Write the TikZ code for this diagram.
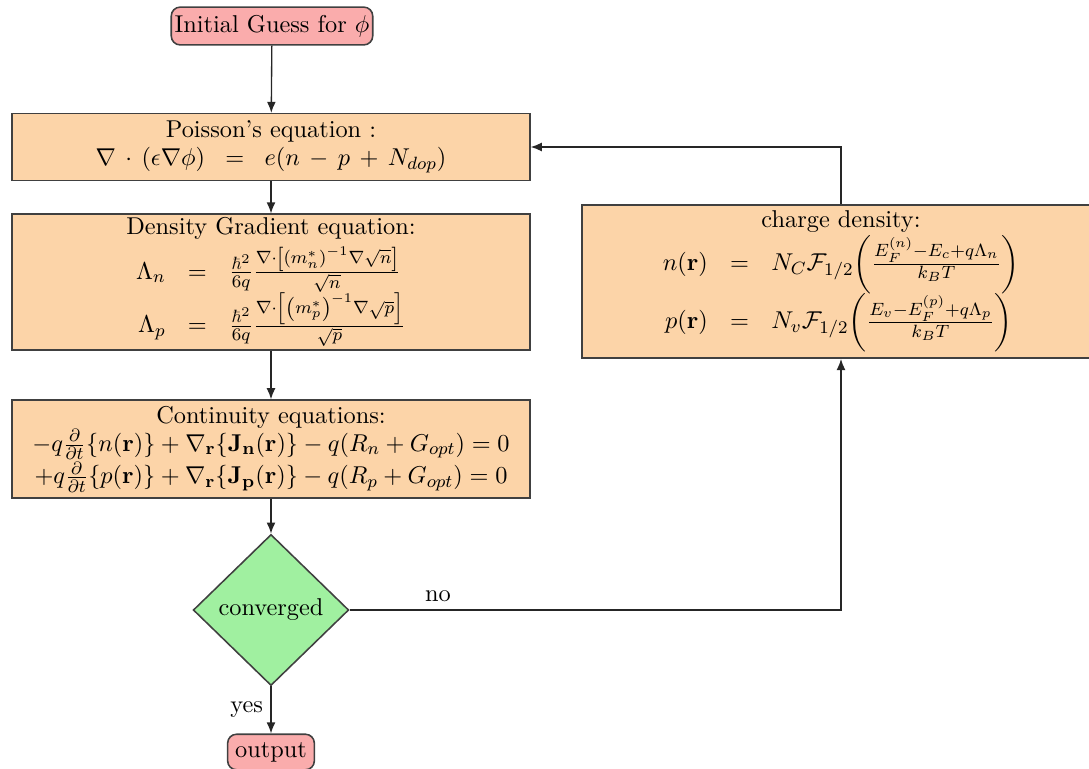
\documentclass[tikz,border=0pt]{standalone}
\usepackage{amsmath,amssymb}
\usetikzlibrary{shapes.geometric,arrows.meta}
\definecolor{boxor}{RGB}{252,212,168}
\definecolor{boxred}{RGB}{250,172,172}
\definecolor{boxgreen}{RGB}{160,240,160}
\tikzset{
  eqbox/.style={draw=black!75, line width=0.7pt, fill=boxor, minimum width=233pt, align=center, inner sep=2pt},
  termbox/.style={draw=black!75, line width=0.7pt, fill=boxred, rounded corners=4pt, align=center, inner sep=1.5pt},
  decbox/.style={diamond, draw=black!75, line width=0.7pt, fill=boxgreen, minimum width=70pt, minimum height=68pt, inner sep=0pt, aspect=1},
  arr/.style={-{Latex[length=5pt,width=4pt]}, line width=0.6pt, draw=black!85}
}
\begin{document}
\begin{tikzpicture}[x=0.45pt,y=-0.45pt,every node/.style={font=\fontsize{10.95}{13.6}\selectfont}]
\useasboundingbox (0,0) rectangle (1089,768);
\node[termbox, minimum width=86pt, minimum height=17pt] (init) at (272,26) {Initial Guess for $\phi$};
\node[eqbox, minimum height=30pt] (poisson) at (271,147) {Poisson's equation :\\[-1pt] $\nabla\,\cdot\,(\epsilon\nabla\phi)\;\;=\;\;e(n\,-\,p\,+\,N_{dop})$};
\node[eqbox, minimum height=61pt, inner ysep=0pt] (dens) at (271,282) {Density Gradient equation:\\[2.5pt]
$\begin{array}{rcl}
\Lambda_n & = & \frac{\hbar^2}{6q}\frac{\nabla\cdot\left[\left(m_n^*\right)^{-1}\nabla\sqrt{n}\right]}{\sqrt{n}}\\[0.5pt]
\Lambda_p & = & \frac{\hbar^2}{6q}\frac{\nabla\cdot\left[\left(m_p^*\right)^{-1}\nabla\sqrt{p}\right]}{\sqrt{p}}
\end{array}$};
\node[eqbox, minimum height=44pt] (cont) at (271,449) {Continuity equations:\\[-1pt]
$-q\frac{\partial}{\partial t}\{n(\mathbf{r})\} + \nabla_{\mathbf{r}}\{\mathbf{J_n}(\mathbf{r})\} - q(R_n + G_{opt}) = 0$\\[0pt]
$+q\frac{\partial}{\partial t}\{p(\mathbf{r})\} + \nabla_{\mathbf{r}}\{\mathbf{J_p}(\mathbf{r})\} - q(R_p + G_{opt}) = 0$};
\node[decbox] (conv) at (271,610) {converged};
\node[termbox, minimum width=39pt, minimum height=16pt] (out) at (271,752) {output};
\node[eqbox, minimum height=69pt, inner ysep=0pt] (charge) at (841,281.5) {charge density:\\[0pt]
$\begin{array}{rcl}
n(\mathbf{r}) & = & N_C\mathcal{F}_{1/2}\bigg(\frac{E_F^{(n)}-E_c+q\Lambda_n}{k_BT}\bigg)\\[0pt]
p(\mathbf{r}) & = & N_v\mathcal{F}_{1/2}\bigg(\frac{E_v-E_F^{(p)}+q\Lambda_p}{k_BT}\bigg)
\end{array}$};
\draw[arr] (init) -- (poisson);
\draw[arr] (poisson) -- (dens);
\draw[arr] (dens) -- (cont);
\draw[arr] (cont) -- (conv);
\draw[arr] (conv) -- node[left]{yes} (out);
\draw[arr] (conv.east) -| node[pos=0.09, above]{no} (charge.south);
\draw[arr] (charge.north) |- (poisson.east);
\end{tikzpicture}
\end{document}
